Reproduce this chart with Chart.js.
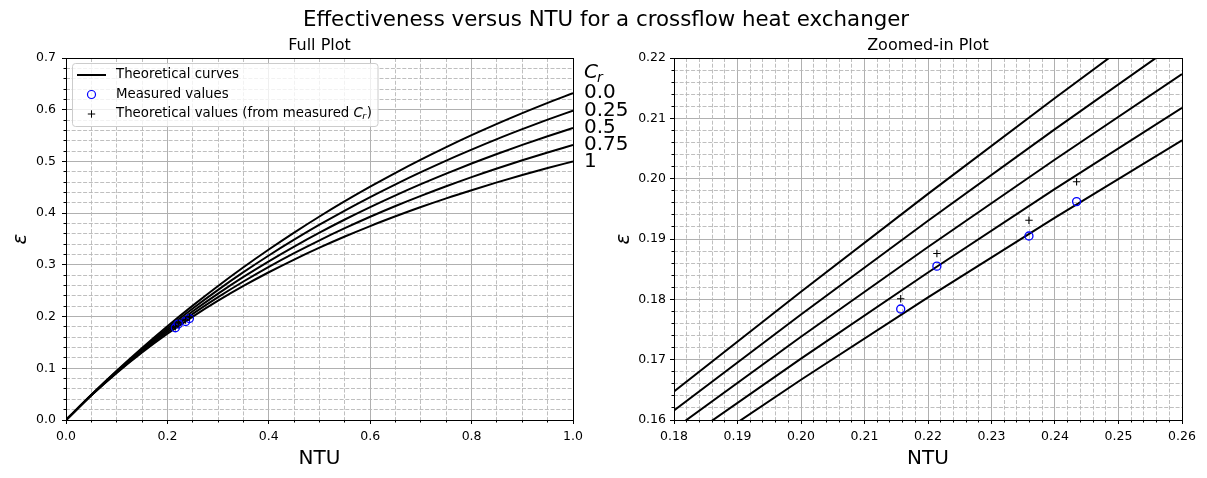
<!DOCTYPE html>
<html><head><meta charset="utf-8">
<script src="https://cdn.jsdelivr.net/npm/chart.js@4.4.1/dist/chart.umd.min.js"></script>
<style>
html,body{margin:0;padding:0;background:#fff;}
body{width:1207px;height:478px;position:relative;overflow:hidden;font-family:'DejaVu Sans';}
#suptitle{position:absolute;left:606px;top:8px;transform:translateX(-50%);font-size:21.33px;line-height:1;white-space:nowrap;color:#000;z-index:5;}
canvas{position:absolute;top:0;}
#c1{left:0;} #c2{left:600px;}
</style></head><body>
<canvas id="c1" width="640" height="478"></canvas>
<canvas id="c2" width="607" height="478"></canvas>
<div id="suptitle">Effectiveness versus NTU for a crossflow heat exchanger</div>
<script>
// ---------------- data ----------------
const ntuFull = [0,0.05,0.1,0.15,0.2,0.25,0.3,0.35,0.4,0.45,0.5,0.55,0.6,0.65,0.7,0.75,0.8,0.85,0.9,0.95,1.0];
const effCr000 = [0,0.0488,0.0952,0.1393,0.1813,0.2212,0.2592,0.2953,0.3297,0.3624,0.3935,0.4231,0.4512,0.4780,0.5034,0.5276,0.5507,0.5726,0.5934,0.6133,0.6321];
const effCr025 = [0,0.0485,0.0941,0.1370,0.1775,0.2157,0.2517,0.2858,0.3181,0.3486,0.3776,0.4050,0.4311,0.4558,0.4793,0.5017,0.5229,0.5432,0.5624,0.5808,0.5983];
const effCr050 = [0,0.0482,0.0930,0.1348,0.1738,0.2103,0.2445,0.2767,0.3069,0.3354,0.3623,0.3877,0.4117,0.4344,0.4560,0.4764,0.4959,0.5144,0.5320,0.5487,0.5647];
const effCr075 = [0,0.0479,0.0920,0.1326,0.1702,0.2051,0.2375,0.2678,0.2961,0.3226,0.3475,0.3709,0.3930,0.4138,0.4334,0.4520,0.4697,0.4864,0.5023,0.5174,0.5319];
const effCr100 = [0,0.0476,0.0909,0.1304,0.1667,0.2000,0.2308,0.2593,0.2857,0.3103,0.3333,0.3548,0.3750,0.3939,0.4118,0.4286,0.4444,0.4595,0.4737,0.4872,0.5000];

const ntuZoom = [0.16,0.18,0.20,0.22,0.24,0.26,0.28];
const zoomCr000 = [0.14786,0.16473,0.18127,0.19748,0.21337,0.22895,0.24422];
const zoomCr025 = [0.14530,0.16158,0.17748,0.19302,0.20821,0.22305,0.23756];
const zoomCr050 = [0.14279,0.15850,0.17379,0.18868,0.20318,0.21732,0.23109];
const zoomCr075 = [0.14034,0.15549,0.17018,0.18445,0.19830,0.21175,0.22483];
const zoomCr100 = [0.13793,0.15254,0.16667,0.18033,0.19355,0.20635,0.21875];

const measuredNtu = [0.2157,0.2214,0.2359,0.2434];
const measuredEff = [0.1784,0.1855,0.1905,0.1962];
const theoryEff   = [0.1801,0.1876,0.1931,0.1995];

const crLabels = ['0.0','0.25','0.5','0.75','1'];

const fullXTicks = [0,0.2,0.4,0.6,0.8,1.0];
const fullYTicks = [0,0.1,0.2,0.3,0.4,0.5,0.6,0.7];
const zoomXTicks = [0.18,0.19,0.20,0.21,0.22,0.23,0.24,0.25,0.26];
const zoomYTicks = [0.16,0.17,0.18,0.19,0.20,0.21,0.22];

// ---------------- helpers ----------------
Chart.defaults.font.family = "DejaVu Sans";
Chart.defaults.color = '#000';
const FF = "'DejaVu Sans'";
function pts(xs, ys){ return xs.map((x,i)=>({x:x, y:ys[i]})); }
function seg(ctx,x1,y1,x2,y2){ ctx.beginPath(); ctx.moveTo(x1,y1); ctx.lineTo(x2,y2); ctx.stroke(); }
function al(p){ return Math.round(p-0.5)+0.5; }
function range(min,max,step){ const out=[]; const n=Math.round((max-min)/step); for(let i=0;i<=n;i++) out.push(min+i*step); return out; }
function isMajor(v,min,step){ const q=(v-min)/step; return Math.abs(q-Math.round(q))<1e-6; }

const decor = {
  id:'decor',
  beforeDatasetsDraw(chart,args,o){
    const {ctx, chartArea:a} = chart; const x=chart.scales.x, y=chart.scales.y;
    ctx.save();
    const xm = range(x.min,x.max,o.xMinor).filter(v=>!isMajor(v,x.min,o.xMajor));
    const ym = range(y.min,y.max,o.yMinor).filter(v=>!isMajor(v,y.min,o.yMajor));
    ctx.strokeStyle='#b8b8b8'; ctx.lineWidth=0.9; ctx.setLineDash([4,1.7]);
    xm.forEach(v=>{ const p=al(x.getPixelForValue(v)); seg(ctx,p,a.top,p,a.bottom); });
    ym.forEach(v=>{ const p=al(y.getPixelForValue(v)); seg(ctx,a.left,p,a.right,p); });
    ctx.setLineDash([]); ctx.strokeStyle='#000'; ctx.lineWidth=1;
    xm.forEach(v=>{ const p=al(x.getPixelForValue(v)); seg(ctx,p,a.bottom,p,a.bottom+2.5); });
    ym.forEach(v=>{ const p=al(y.getPixelForValue(v)); seg(ctx,a.left-2.5,p,a.left,p); });
    ctx.restore();
  },
  afterDatasetsDraw(chart){
    const {ctx, chartArea:a} = chart;
    ctx.save(); ctx.strokeStyle='#000'; ctx.lineWidth=1;
    const l=al(a.left), t=al(a.top), r=al(a.right), b=al(a.bottom);
    ctx.strokeRect(l,t,r-l,b-t);
    ctx.restore();
  },
  afterDraw(chart,args,o){
    const {ctx, chartArea:a} = chart; const y=chart.scales.y;
    const cx=(a.left+a.right)/2;
    ctx.save();
    ctx.fillStyle='#000';
    ctx.textAlign='center'; ctx.textBaseline='alphabetic';
    ctx.font='16px '+FF; ctx.fillText(o.title,cx,50);
    ctx.font='20px '+FF; ctx.fillText('NTU',cx,464);
    ctx.save();
    ctx.translate(o.yLabelX,(a.top+a.bottom)/2); ctx.rotate(-Math.PI/2);
    ctx.font='italic 20px '+FF; ctx.textBaseline='middle'; ctx.fillText('ε',0,0);
    ctx.restore();

    if (o.cr){
      const x0=584;
      ctx.textAlign='left'; ctx.textBaseline='alphabetic';
      ctx.font='italic 20px '+FF; ctx.fillText('C',x0,78);
      const cw=ctx.measureText('C').width;
      ctx.font='italic 14px '+FF; ctx.fillText('r',x0+cw-1,82);
      ctx.font='20px '+FF; ctx.textBaseline='middle';
      o.cr.values.forEach((v,i)=>{ ctx.fillText(o.cr.labels[i],x0,y.getPixelForValue(v)); });
    }

    if (o.legend){
      const L={x:72.5,y:63.5,w:305.5,h:63,r:3};
      ctx.beginPath();
      ctx.moveTo(L.x+L.r,L.y); ctx.lineTo(L.x+L.w-L.r,L.y); ctx.arcTo(L.x+L.w,L.y,L.x+L.w,L.y+L.r,L.r);
      ctx.lineTo(L.x+L.w,L.y+L.h-L.r); ctx.arcTo(L.x+L.w,L.y+L.h,L.x+L.w-L.r,L.y+L.h,L.r);
      ctx.lineTo(L.x+L.r,L.y+L.h); ctx.arcTo(L.x,L.y+L.h,L.x,L.y+L.h-L.r,L.r);
      ctx.lineTo(L.x,L.y+L.r); ctx.arcTo(L.x,L.y,L.x+L.r,L.y,L.r); ctx.closePath();
      ctx.fillStyle='rgba(255,255,255,0.8)'; ctx.fill();
      ctx.strokeStyle='#cccccc'; ctx.lineWidth=1; ctx.stroke();
      const rows=[75,94.5,114];
      ctx.strokeStyle='#000'; ctx.lineWidth=2; seg(ctx,77,rows[0],106,rows[0]);
      ctx.strokeStyle='#0000ff'; ctx.lineWidth=1.2; ctx.beginPath(); ctx.arc(91.5,rows[1],4,0,Math.PI*2); ctx.stroke();
      ctx.strokeStyle='#000'; ctx.lineWidth=1; seg(ctx,87.8,rows[2],95.2,rows[2]); seg(ctx,91.5,rows[2]-3.7,91.5,rows[2]+3.7);
      ctx.fillStyle='#000'; ctx.textAlign='left'; ctx.textBaseline='middle';
      ctx.font='13.33px '+FF;
      ctx.fillText('Theoretical curves',116,rows[0]);
      ctx.fillText('Measured values',116,rows[1]);
      let tx=116; const s1='Theoretical values (from measured ';
      ctx.fillText(s1,tx,rows[2]); tx+=ctx.measureText(s1).width;
      ctx.font='italic 13.33px '+FF; ctx.fillText('C',tx,rows[2]); tx+=ctx.measureText('C').width;
      ctx.font='italic 9.5px '+FF; ctx.fillText('r',tx-0.5,rows[2]+3); tx+=ctx.measureText('r').width;
      ctx.font='13.33px '+FF; ctx.fillText(')',tx,rows[2]);
    }
    ctx.restore();
  }
};

const curveStyle = {type:'line', borderColor:'#000', borderWidth:2, pointRadius:0, fill:false, cubicInterpolationMode:'monotone', clip:0, order:3};

function markerSets(){
  return [
    {label:'Theoretical values', data:pts(measuredNtu,theoryEff), pointStyle:'cross', pointRadius:3.7, borderColor:'#000', pointBorderColor:'#000', pointBorderWidth:1.1, order:0},
    {label:'Measured values', data:pts(measuredNtu,measuredEff), pointStyle:'circle', pointRadius:4, borderColor:'#0000ff', pointBorderColor:'#0000ff', pointBackgroundColor:'rgba(0,0,0,0)', backgroundColor:'rgba(0,0,0,0)', pointBorderWidth:1.3, order:1}
  ];
}

function makeChart(id, datasets, opt){
  return new Chart(document.getElementById(id), {
    type:'scatter',
    data:{datasets:datasets},
    options:{
      responsive:false, animation:false, devicePixelRatio:1, events:[],
      layout:{padding:{left:0,top:58,right:opt.padRight,bottom:0}},
      plugins:{legend:{display:false}, tooltip:{enabled:false}, decor:opt.decor},
      scales:{
        x:{type:'linear', min:opt.xMin, max:opt.xMax,
          afterBuildTicks:s=>{ s.ticks=opt.xTicks.map(v=>({value:v})); },
          ticks:{callback:v=>Number(v).toFixed(opt.xDec), font:{size:12.5}, color:'#000', padding:5.5, autoSkip:false, maxRotation:0},
          grid:{color:'#b0b0b0', lineWidth:1, tickLength:4, tickColor:'#000', tickWidth:1},
          border:{display:false},
          afterFit:s=>{ s.height=58; }
        },
        y:{type:'linear', min:opt.yMin, max:opt.yMax,
          afterBuildTicks:s=>{ s.ticks=opt.yTicks.map(v=>({value:v})); },
          ticks:{callback:v=>Number(v).toFixed(opt.yDec), font:{size:12.5}, color:'#000', padding:opt.yPad, autoSkip:false},
          grid:{color:'#b0b0b0', lineWidth:1, tickLength:4, tickColor:'#000', tickWidth:1},
          border:{display:false},
          afterFit:s=>{ s.width=opt.yWidth; }
        }
      }
    },
    plugins:[decor]
  });
}

const fullCurves = [effCr000,effCr025,effCr050,effCr075,effCr100];
makeChart('c1',
  markerSets().concat(fullCurves.map((c,i)=>Object.assign({label:'Cr '+crLabels[i], data:pts(ntuFull,c)},curveStyle))),
  {xMin:0,xMax:1,yMin:0,yMax:0.7,xTicks:fullXTicks,yTicks:fullYTicks,xDec:1,yDec:1,yWidth:66,yPad:6,padRight:67,
   decor:{title:'Full Plot',xMinor:0.05,xMajor:0.2,yMinor:0.02,yMajor:0.1,yLabelX:21,legend:true,
          cr:{labels:crLabels, values:fullCurves.map(c=>c[c.length-1])}}});

const zoomCurves = [zoomCr000,zoomCr025,zoomCr050,zoomCr075,zoomCr100];
makeChart('c2',
  markerSets().concat(zoomCurves.map((c,i)=>Object.assign({label:'Cr '+crLabels[i], data:pts(ntuZoom,c)},curveStyle))),
  {xMin:0.18,xMax:0.26,yMin:0.16,yMax:0.22,xTicks:zoomXTicks,yTicks:zoomYTicks,xDec:2,yDec:2,yWidth:74,yPad:4,padRight:25,
   decor:{title:'Zoomed-in Plot',xMinor:0.002,xMajor:0.01,yMinor:0.002,yMajor:0.01,yLabelX:24,legend:false,cr:null}});
</script>
</body></html>
